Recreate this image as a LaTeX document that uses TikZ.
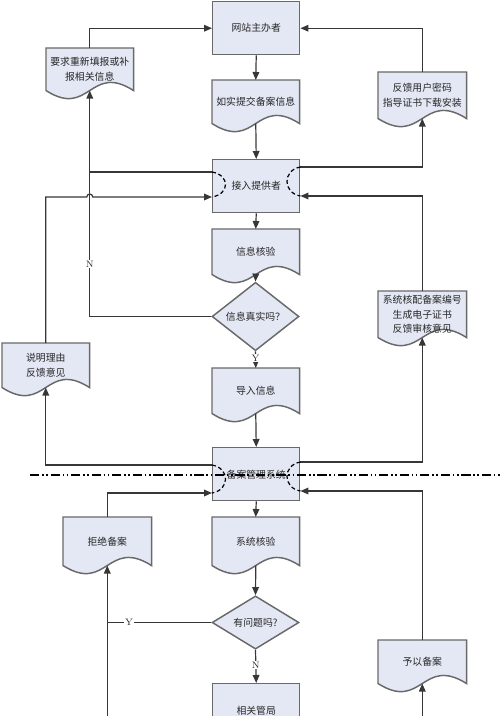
\documentclass[tikz,border=0pt]{standalone}
\usepackage{fontspec}
\newfontfamily\cjk{Noto Sans CJK SC}
\usetikzlibrary{arrows.meta,shapes.geometric,backgrounds,calc}
\definecolor{boxfill}{RGB}{227,232,244}
\definecolor{boxline}{RGB}{105,105,105}
\definecolor{conline}{RGB}{55,55,55}
\newcommand\docoutline[1]{\path[docline] (#1.north west) -- (#1.south west) .. controls ([yshift=-21pt]#1.south) and ([yshift=21pt]#1.south) .. (#1.south east) -- (#1.north east) -- cycle;}
\begin{document}
\begin{tikzpicture}[x=0.75pt,y=-0.75pt,
 every node/.style={font=\cjk\fontsize{7.4}{11}\selectfont, align=center, inner sep=0pt, text=black!85},
 procbox/.style={draw=boxline, fill=boxfill, line width=1.1pt, minimum width=65.25pt, minimum height=39.75pt, anchor=north west},
 doctext/.style={minimum width=65.25pt, anchor=north west},
 docline/.style={draw=boxline, fill=boxfill, line width=1.1pt},
 decision/.style={diamond, draw=boxline, fill=boxfill, line width=1.1pt, minimum width=65.25pt, minimum height=39.75pt},
 conn/.style={draw=conline, line width=0.9pt, -{Triangle[length=6pt,width=5pt]}},
 plain/.style={draw=conline, line width=0.9pt},
 yn/.style={font=\rmfamily\fontsize{7}{8}\selectfont, fill=white, inner sep=0.8pt},
 dasharc/.style={draw=black, line width=0.9pt, dash pattern=on 3pt off 2pt},
 sepline/.style={draw=black, line width=1.1pt, dash pattern=on 7pt off 2pt on 1.2pt off 2pt on 1.2pt off 2pt},
]
\useasboundingbox (0,0) rectangle (500,716);
\clip (0,0) rectangle (500,716);

% level coordinates
\coordinate (yA) at (0,172);
\coordinate (yB) at (0,197);
\coordinate (yC) at (0,465);
\coordinate (yD) at (0,493);
\coordinate (yE) at (0,167);
\coordinate (yF) at (0,196);
\coordinate (yG) at (0,462);
\coordinate (yH) at (0,491);
\coordinate (bottom) at (0,720);
\coordinate (sepL) at (30,475);
\coordinate (sepR) at (500,475);

% main column
\node[procbox] (host) at (212,1) {网站主办者};
\node[doctext, minimum height=32.25pt] (sub) at (212,80) {如实提交备案信息};
\node[procbox] (isp) at (212,159) {接入提供者};
\node[doctext, minimum height=33.75pt] (ver) at (212,229) {信息核验};
\node[decision] (true) at (255.5,316.5) {信息真实吗？};
\node[doctext, minimum height=33.75pt] (imp) at (212,368) {导入信息};
\node[procbox] (sys) at (212,447) {备案管理系统};
\node[doctext, minimum height=36pt] (syschk) at (212,517) {系统核验};
\node[decision] (prob) at (255.5,622.5) {有问题吗?};
\node[procbox] (bureau) at (212,683) {相关管局};

% side documents
\node[doctext, minimum height=31.5pt] (req) at (46,48) {要求重新填报或补\\报相关信息};
\node[doctext, minimum width=66pt, minimum height=34.5pt] (fb) at (378,72) {反馈用户密码\\指导证书下载安装};
\node[doctext, minimum height=33pt] (expl) at (2,343) {说明理由\\反馈意见};
\node[doctext, minimum width=66pt, minimum height=34.5pt] (sysno) at (378,291) {系统核配备案编号\\生成电子证书\\反馈审核意见};
\node[doctext, minimum width=66pt, minimum height=36pt] (rej) at (63,517) {拒绝备案};
\node[doctext, minimum width=66pt, minimum height=32.25pt] (grant) at (378,640) {予以备案};

\begin{scope}[on background layer]
\docoutline{sub}
\docoutline{ver}
\docoutline{imp}
\docoutline{syschk}
\docoutline{req}
\docoutline{fb}
\docoutline{expl}
\docoutline{sysno}
\docoutline{rej}
\docoutline{grant}
\end{scope}

% main flow
\draw[conn] (host.south) -- (sub.north);
\draw[conn] (sub.south) -- (isp.north);
\draw[conn] (isp.south) -- (ver.north);
\draw[conn] (ver.south) -- (true.north);
\draw[conn] (true.south) -- node[yn, pos=0.4]{Y} (imp.north);
\draw[conn] (imp.south) -- (sys.north);
\draw[conn] (sys.south) -- (syschk.north);
\draw[conn] (syschk.south) -- (prob.north);
\draw[conn] (prob.south) -- node[yn, pos=0.46]{N} (bureau.north);

% left side
\draw[conn] (req.north) |- (host.west);
\draw[conn] (true.west) -| node[yn, pos=0.616]{N} (req.south);
\draw[plain] (isp.west |- yA) -- (req.south |- yA);
\draw[conn] (expl.north) -- (expl.north |- yB) -- ($(req.south |- yB)+(-3,0)$) arc[start angle=180, end angle=0, radius=2.25pt] -- (isp.west |- yB);
\draw[conn] (sys.west |- yC) -| (expl.south);
\draw[conn] (rej.north) |- (sys.west |- yD);
\draw[plain] (prob.west) -- node[yn, pos=0.79]{Y} (rej.south |- prob.west);
\draw[conn] (rej.south |- bottom) -- (rej.south);

% right side
\draw[conn] (fb.north) |- (host.east);
\draw[conn] (isp.east |- yE) -| (fb.south);
\draw[conn] (sysno.north) |- (isp.east |- yF);
\draw[conn] (sys.east |- yG) -| (sysno.south);
\draw[conn] (grant.north) |- (sys.east |- yH);
\draw[conn] (grant.south |- bottom) -- (grant.south);

% dashed arcs
\draw[dasharc] (isp.west |- yA) .. controls +(18,3) and +(18,-3) .. (isp.west |- yB);
\draw[dasharc] (isp.east |- yE) .. controls +(-18,3) and +(-18,-3) .. (isp.east |- yF);
\draw[dasharc] (sys.west |- yC) .. controls +(18,3) and +(18,-3) .. (sys.west |- yD);
\draw[dasharc] (sys.east |- yG) .. controls +(-18,3) and +(-18,-3) .. (sys.east |- yH);

% separator
\draw[sepline] (sepL) -- (sepR);
\end{tikzpicture}
\end{document}
